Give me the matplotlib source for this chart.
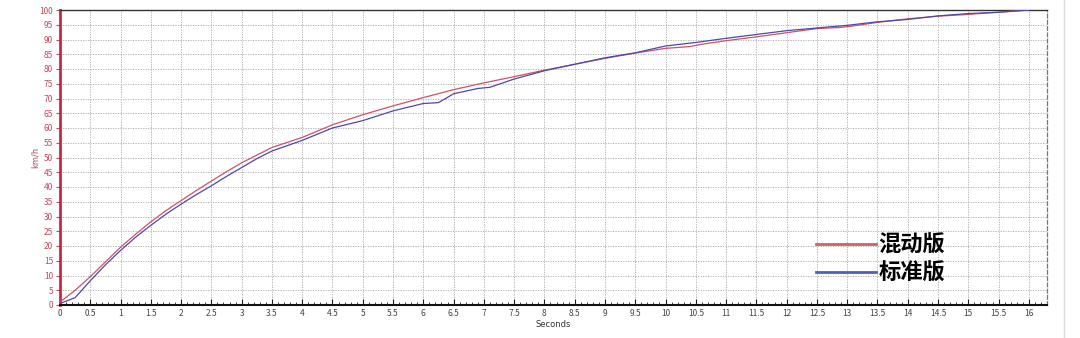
import matplotlib
matplotlib.use("Agg")
import matplotlib.pyplot as plt
from matplotlib.lines import Line2D

plt.rcParams['font.family'] = ['Noto Sans CJK SC', 'DejaVu Sans']

# Hybrid version (混动版)
t_hybrid = [0, 0.25, 0.5, 0.75, 1.0, 1.25, 1.5, 1.75, 2.0, 2.25, 2.5, 2.75, 3.0,
            3.5, 4.0, 4.5, 5.0, 5.5, 6.0, 6.5, 7.0, 7.5, 8.0, 8.5, 9.0, 9.5,
            10.0, 10.4, 10.6, 11.0, 11.5, 12.0, 12.5, 12.9, 13.1, 13.5, 14.0,
            14.5, 15.0, 15.5, 16.0]
v_hybrid = [1.0, 5.0, 9.6, 14.6, 19.6, 24.0, 28.2, 32.0, 35.4, 38.8, 42.0, 45.2, 48.2,
            53.4, 56.8, 61.1, 64.5, 67.5, 70.3, 73.0, 75.3, 77.4, 79.6, 81.6, 83.6, 85.4,
            87.0, 87.6, 88.4, 89.6, 90.9, 92.3, 93.7, 94.1, 94.6, 95.8, 97.0,
            97.9, 98.5, 99.3, 100.0]

# Standard version (标准版)
t_standard = [0, 0.25, 0.5, 0.75, 1.0, 1.25, 1.5, 1.75, 2.0, 2.25, 2.5, 2.75, 3.0,
              3.25, 3.5, 4.0, 4.5, 5.0, 5.5, 6.0, 6.25, 6.5, 6.9, 7.1, 7.5, 8.0,
              8.5, 9.0, 9.5, 10.0, 10.5, 11.0, 11.5, 12.0, 12.5, 13.0, 13.5, 14.0,
              14.5, 15.0, 15.5, 16.0]
v_standard = [0.5, 2.5, 8.2, 13.6, 18.5, 23.0, 27.0, 30.8, 34.2, 37.4, 40.4, 43.6, 46.6,
              49.6, 52.2, 55.8, 60.0, 62.5, 65.8, 68.3, 68.6, 71.6, 73.4, 73.8, 76.6, 79.4,
              81.6, 83.8, 85.5, 87.8, 89.0, 90.4, 91.7, 93.0, 93.9, 94.8, 96.0, 96.8,
              98.0, 98.8, 99.2, 100.0]

series_labels = ['混动版', '标准版']
x_ticks = [i * 0.5 for i in range(33)]
x_ticklabels = ['%g' % v for v in x_ticks]
y_ticks = list(range(0, 101, 5))

fig = plt.figure(figsize=(10.8, 3.38), dpi=100)
ax = fig.add_axes([60 / 1080, 1 - 305 / 338, 987 / 1080, 295 / 338])

red = '#d05068'
blue = '#4a4aa8'
ax.plot(t_hybrid, v_hybrid, color=red, lw=0.9, label=series_labels[0], zorder=3)
ax.plot(t_standard, v_standard, color=blue, lw=0.9, label=series_labels[1], zorder=3)

ax.set_xlim(0, 16.3)
ax.set_ylim(0, 100)
ax.set_xticks(x_ticks)
ax.set_xticklabels(x_ticklabels)
ax.set_xticks([i * 0.1 for i in range(164)], minor=True)
ax.set_yticks(y_ticks)

ax.grid(True, which='major', color='#a8a8a8', linestyle=(0, (1.5, 1.5)), lw=0.6)
ax.tick_params(axis='x', which='major', direction='in', length=4, width=0.8,
               labelsize=6, labelcolor='#444444', pad=3, color='#222222')
ax.tick_params(axis='x', which='minor', direction='in', length=2, width=0.6, color='#222222')
ax.tick_params(axis='y', which='major', direction='out', length=3, width=0.8,
               labelsize=6, labelcolor='#c04a5a', pad=2, color='#c04a5a')

ax.spines['left'].set_color('#c8283c')
ax.spines['left'].set_linewidth(2.0)
ax.spines['bottom'].set_color('#111111')
ax.spines['bottom'].set_linewidth(1.5)
ax.spines['top'].set_color('#333333')
ax.spines['top'].set_linewidth(1.0)
ax.spines['right'].set_color('#777777')
ax.spines['right'].set_linestyle((0, (3, 2)))
ax.spines['right'].set_linewidth(0.9)

ax.set_xlabel('Seconds', fontsize=6, color='#333333', labelpad=1, family=['DejaVu Sans'])
ax.set_ylabel('km/h', fontsize=6, color='#c04a5a', labelpad=0, family=['DejaVu Sans'])

handles = [Line2D([0], [0], color='#d0606e', lw=2.0),
           Line2D([0], [0], color='#5060b0', lw=2.0)]
leg = ax.legend(handles, series_labels, loc='upper left',
                bbox_to_anchor=((816 - 60) / 987, (305 - 234) / 295),
                frameon=False, handlelength=2.7, handletextpad=0.1,
                labelspacing=0.2, borderaxespad=0, borderpad=0,
                prop={'family': ['Noto Sans CJK SC'], 'weight': 'bold', 'size': 16})

fig.add_artist(Line2D([1064 / 1080, 1064 / 1080], [0, 1], color='#dddddd', lw=1.0))

fig.savefig('out.png', dpi=100)
